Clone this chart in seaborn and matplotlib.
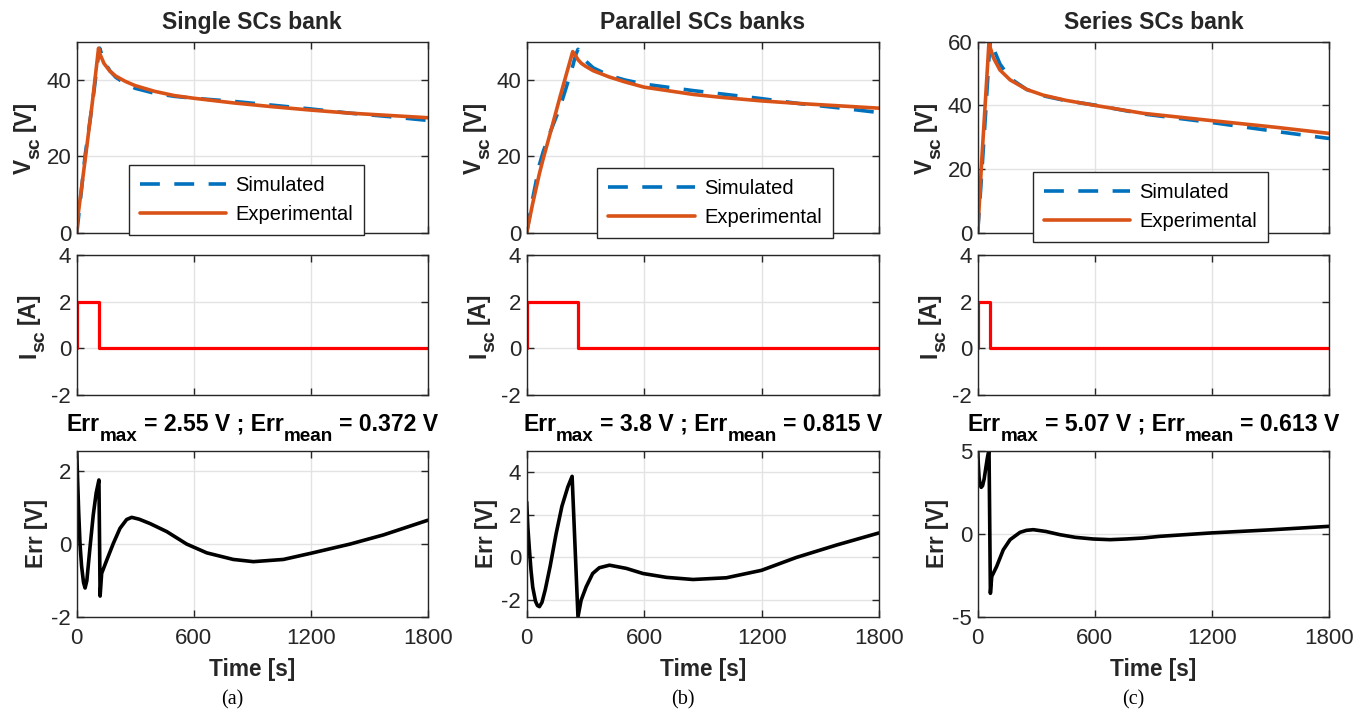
import matplotlib
matplotlib.use("Agg")
import matplotlib.pyplot as plt
import seaborn as sns
import numpy as np

# ---------------- data ----------------
titles = ["Single SCs bank", "Parallel SCs banks", "Series SCs bank"]
captions = ["(a)", "(b)", "(c)"]
err_max = ["2.55", "3.8", "5.07"]
err_mean = ["0.372", "0.815", "0.613"]

# (a) single bank
ta_v = [0, 2, 43, 80, 112, 118, 140, 170, 200, 250, 300, 400, 500, 600, 800, 1000, 1200, 1400, 1600, 1800]
va_exp = [0, 2.6, 19.0, 34.0, 48.3, 46.9, 44.3, 42.3, 41.0, 39.6, 38.5, 37.0, 35.9, 35.2, 34.0, 33.0, 32.1, 31.3, 30.7, 30.1]
va_sim = [0, 0.5, 20.2, 33.6, 46.6, 48.3, 44.9, 42.4, 40.7, 39.0, 37.8, 36.5, 35.7, 35.2, 34.4, 33.4, 32.4, 31.3, 30.4, 29.4]
ta_i = [0, 0, 113, 113, 1800]
ia = [0, 2, 2, 0, 0]
ta_e = [0, 5, 10, 17, 25, 35, 43, 52, 68, 85, 100, 114, 120, 128, 154, 188, 222, 256, 282, 320, 376, 462, 564, 667,
        803, 906, 1060, 1202, 1402, 1573, 1800]
ea = [2.55, 1.7, 0.9, 0.0, -0.6, -1.05, -1.2, -1.0, -0.1, 0.8, 1.4, 1.75, -1.42, -0.8, -0.44, 0.02, 0.43, 0.67, 0.73,
      0.68, 0.56, 0.34, 0.0, -0.24, -0.42, -0.48, -0.42, -0.25, 0.0, 0.25, 0.65]

# (b) parallel banks
tb_v = [0, 30, 65, 85, 120, 170, 200, 235, 250, 262, 280, 300, 340, 420, 500, 600, 850, 1000, 1200, 1400, 1600, 1800]
vb_exp = [0, 7.5, 15.5, 19.5, 26.0, 35.5, 41.0, 47.4, 46.3, 45.3, 44.3, 43.6, 42.4, 40.8, 39.5, 38.1, 36.2, 35.4, 34.5, 33.8, 33.2, 32.6]
vb_sim = [0, 8.8, 17.8, 21.3, 26.3, 32.8, 37.7, 43.6, 46.5, 48.0, 46.2, 45.0, 43.15, 41.2, 40.0, 38.9, 37.2, 36.3, 35.1, 33.75, 32.65, 31.45]
tb_i = [0, 0, 264, 264, 1800]
ib = [0, 2, 2, 0, 0]
tb_e = [0, 6, 14, 22, 31, 45, 55, 65, 78, 95, 120, 150, 180, 210, 232, 262, 278, 304, 337, 371, 423, 509, 594, 714,
        850, 1020, 1200, 1377, 1582, 1800]
eb = [2.6, 1.4, 0.35, -0.6, -1.4, -2.05, -2.25, -2.3, -2.1, -1.5, -0.4, 1.1, 2.4, 3.3, 3.8, -2.78, -2.0, -1.37, -0.75,
      -0.48, -0.36, -0.51, -0.75, -0.93, -1.03, -0.95, -0.6, 0.0, 0.58, 1.15]

# (c) series bank
tc_v = [0, 20, 40, 58, 65, 80, 114, 166, 251, 336, 450, 600, 848, 1200, 1530, 1800]
vc_exp = [0, 22, 42, 60, 58, 55, 51.1, 48.0, 45.0, 43.2, 41.6, 40.0, 37.5, 35.2, 33.1, 31.2]
vc_sim = [0, 18, 37, 55, 60.5, 58, 53, 48.5, 45, 43, 41.5, 40.1, 37.3, 34.6, 31.8, 29.6]
tc_i = [0, 0, 65, 65, 1800]
ic = [0, 2, 2, 0, 0]
tc_e = [0, 3, 7, 12, 18, 25, 33, 42, 50, 58, 65, 72, 97, 131, 166, 217, 250, 285, 350, 421, 500, 592, 678, 760,
        848, 934, 1190, 1500, 1800]
ec = [5.05, 4.2, 3.4, 2.95, 2.8, 2.9, 3.3, 4.0, 4.6, 5.07, -3.56, -2.55, -1.95, -0.95, -0.34, 0.1, 0.22, 0.26, 0.15,
      -0.04, -0.2, -0.3, -0.34, -0.3, -0.24, -0.14, 0.06, 0.25, 0.46]

panels = [
    dict(tv=ta_v, exp=va_exp, sim=va_sim, ti=ta_i, i=ia, te=ta_e, e=ea,
         vlim=(0, 50), vticks=[0, 20, 40], elim=(-2, 2.55), eticks=[-2, 0, 2], leg=(0.484, -0.012)),
    dict(tv=tb_v, exp=vb_exp, sim=vb_sim, ti=tb_i, i=ib, te=tb_e, e=eb,
         vlim=(0, 50), vticks=[0, 20, 40], elim=(-2.8, 5), eticks=[-2, 0, 2, 4], leg=(0.535, -0.028)),
    dict(tv=tc_v, exp=vc_exp, sim=vc_sim, ti=tc_i, i=ic, te=tc_e, e=ec,
         vlim=(0, 60), vticks=[0, 20, 40, 60], elim=(-5, 5), eticks=[-5, 0, 5], leg=(0.492, -0.049)),
]
xticks = [0, 600, 1200, 1800]

# ---------------- style ----------------
sns.set_style("ticks")
plt.rcParams['font.family'] = ['Liberation Sans', 'DejaVu Sans']
plt.rcParams['axes.unicode_minus'] = False

TXT = '#262626'
BLUE = '#0072BD'
ORANGE = '#D95319'

fig = plt.figure(figsize=(13.7, 7.17), dpi=100)
W, H = 1370.0, 717.0
cols = [(76.7, 427.7), (526.7, 879.0), (977.7, 1329.0)]
rows = [(41.7, 232.7), (255.0, 395.0), (450.7, 617.3)]
renderer = fig.canvas.get_renderer()


def mk_ax(c, r):
    x0, x1 = cols[c]
    y0, y1 = rows[r]
    return fig.add_axes([x0 / W, 1 - y1 / H, (x1 - x0) / W, (y1 - y0) / H])


def style(ax, show_x):
    ax.set_xlim(0, 1800)
    ax.set_xticks(xticks)
    if not show_x:
        ax.set_xticklabels([])
    ax.grid(True, color='#E3E3E3', linewidth=1.0)
    ax.set_axisbelow(True)
    ax.tick_params(direction='in', top=True, right=True, length=5, width=1,
                   labelsize=16, colors=TXT)
    ax.tick_params(axis='x', pad=8)
    ax.tick_params(axis='y', pad=4)
    for s in ax.spines.values():
        s.set_color(TXT)
        s.set_linewidth(1.0)
        s.set_visible(True)


def measure(s, fs):
    t1 = fig.text(0, 0, '|' + s + '|', fontsize=fs, fontweight='bold')
    t2 = fig.text(0, 0, '||', fontsize=fs, fontweight='bold')
    w = t1.get_window_extent(renderer).width - t2.get_window_extent(renderer).width
    t1.remove()
    t2.remove()
    return w


def rich(pieces, cx, cy, rotated=False, color=TXT):
    """pieces: (text, fontsize, baseline drop px). Horizontal: cx centre, cy baseline.
    Rotated: cx baseline x, cy centre."""
    widths = [measure(s, fs) for s, fs, _ in pieces]
    pos = -sum(widths) / 2.0
    for (s, fs, off), w in zip(pieces, widths):
        if s.strip():
            if rotated:
                x, y = cx + off, cy - pos
                fig.text(x / W, 1 - y / H, s, fontsize=fs, fontweight='bold', color=color,
                         rotation=90, rotation_mode='anchor', ha='left', va='baseline')
            else:
                x, y = cx + pos, cy + off
                fig.text(x / W, 1 - y / H, s, fontsize=fs, fontweight='bold', color=color,
                         ha='left', va='baseline')
        pos += w


LFS, LSUB, LOFF = 16.3, 14.0, 9.0
TFS, TSUB, TOFF = 16.6, 13.6, 10.0

for c, p in enumerate(panels):
    x0, x1 = cols[c]
    # voltage
    ax = mk_ax(c, 0)
    sns.lineplot(x=p['tv'], y=p['sim'], ax=ax, color=BLUE, linewidth=2.6,
                 linestyle=(0, (5.5, 4.0)), label='Simulated', sort=False, estimator=None)
    sns.lineplot(x=p['tv'], y=p['exp'], ax=ax, color=ORANGE, linewidth=2.6,
                 label='Experimental', sort=False, estimator=None)
    style(ax, False)
    ax.set_ylim(*p['vlim'])
    ax.set_yticks(p['vticks'])
    ax.set_title(titles[c], fontsize=16.6, fontweight='bold', color=TXT, pad=9)
    leg = ax.legend(loc='lower center', bbox_to_anchor=p['leg'], fontsize=14.5,
                    frameon=True, fancybox=False, framealpha=1, edgecolor=TXT,
                    handlelength=4.3, borderpad=0.55, labelspacing=0.5, handletextpad=0.45,
                    borderaxespad=0.0)
    leg.get_frame().set_linewidth(1.0)
    for t in leg.get_texts():
        t.set_color('black')
    yc = 0.5 * sum(rows[0])
    rich([("V", LFS, 0), ("sc", LSUB, LOFF), (" ", LFS, 0), ("[V]", LFS, 0)],
         x0 - 37 - LOFF, yc, rotated=True)

    # current
    ax = mk_ax(c, 1)
    sns.lineplot(x=p['ti'], y=p['i'], ax=ax, color='#FF0000', linewidth=2.3,
                 sort=False, estimator=None)
    style(ax, False)
    ax.set_ylim(-2, 4)
    ax.set_yticks([-2, 0, 2, 4])
    yc = 0.5 * sum(rows[1])
    rich([("I", LFS, 0), ("sc", LSUB, LOFF), (" ", LFS, 0), ("[A]", LFS, 0)],
         x0 - 32.5 - LOFF, yc, rotated=True)

    # error
    ax = mk_ax(c, 2)
    sns.lineplot(x=p['te'], y=p['e'], ax=ax, color='black', linewidth=2.6,
                 sort=False, estimator=None)
    style(ax, True)
    ax.set_ylim(*p['elim'])
    ax.set_yticks(p['eticks'])
    ax.set_xlabel('Time [s]', fontsize=16.3, fontweight='bold', color=TXT, labelpad=6)
    yc = 0.5 * sum(rows[2])
    rich([("Err [V]", LFS, 0)], x0 - 33.7, yc, rotated=True)
    rich([("Err", TFS, 0), ("max", TSUB, TOFF), (" ", TFS, 0),
          ("= " + err_max[c] + " V ; Err", TFS, 0), ("mean", TSUB, TOFF), (" ", TFS, 0),
          ("= " + err_mean[c] + " V", TFS, 0)],
         0.5 * (x0 + x1), 431.0, color='black')

    # caption
    fig.text((0.5 * (x0 + x1) - 20) / W, 1 - 700 / H, captions[c], ha='center', va='center',
             fontsize=14.5, family=['Liberation Serif', 'DejaVu Serif'], color='black')

fig.savefig('out.png', dpi=100)
